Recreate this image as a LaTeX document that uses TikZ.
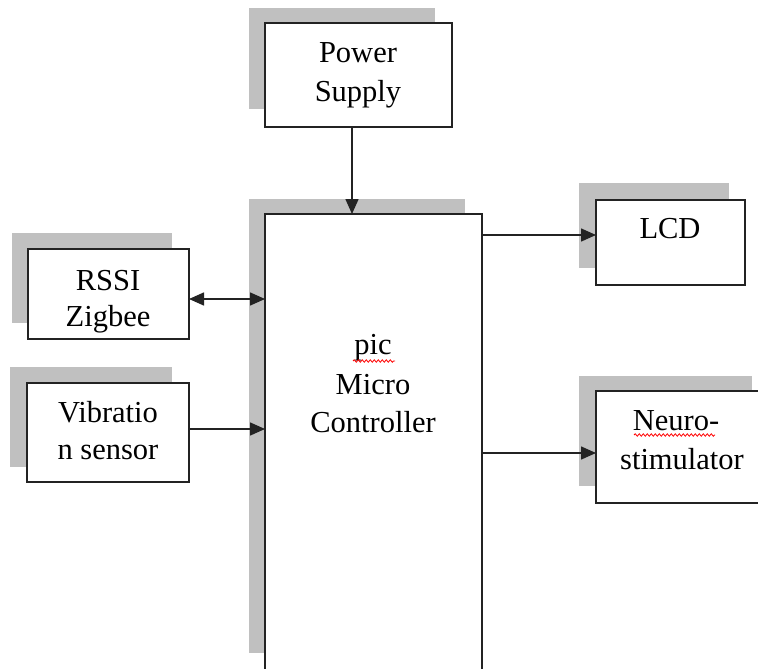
\documentclass[tikz,border=0pt]{standalone}
\usepackage{fontspec}
\setmainfont{Liberation Serif}
\usetikzlibrary{arrows.meta,decorations.pathmorphing}
\definecolor{shadowgray}{RGB}{192,192,192}
\definecolor{boxline}{RGB}{35,35,35}
\tikzset{
  shadowbox/.style={fill=shadowgray, draw=none},
  blockbox/.style={draw=boxline, line width=1.5pt, fill=white, inner sep=0pt, outer sep=0pt, anchor=north west},
  lbl/.style={inner sep=0pt, anchor=base, text=black, font=\fontsize{30.5}{36}\selectfont},
  conn/.style={line width=1.5pt, draw=boxline, -{Triangle[length=15pt,width=13pt]}},
  biconn/.style={line width=1.5pt, draw=boxline, {Triangle[length=15pt,width=13pt]}-{Triangle[length=15pt,width=13pt]}},
  spell/.style={draw=red, line width=0.8pt, decorate, decoration={snake, amplitude=1.2pt, segment length=4pt}}
}
\begin{document}
\begin{tikzpicture}[x=1pt,y=-1pt]
\useasboundingbox (0,0) rectangle (758,669);
% shadows
\fill[shadowbox] (249,8) rectangle (435,109);
\fill[shadowbox] (249,199) rectangle (465,653);
\fill[shadowbox] (12,233) rectangle (172,323);
\fill[shadowbox] (10,367) rectangle (172,467);
\fill[shadowbox] (579,183) rectangle (729,268);
\fill[shadowbox] (579,376) rectangle (752,486);
% boxes
\node[blockbox, minimum width=187pt, minimum height=104pt] (ps) at (265,23) {};
\node[blockbox, minimum width=217pt, minimum height=456pt] (mc) at (265,214) {};
\node[blockbox, minimum width=161pt, minimum height=90pt] (rs) at (28,249) {};
\node[blockbox, minimum width=162pt, minimum height=99pt] (vb) at (27,383) {};
\node[blockbox, minimum width=149pt, minimum height=85pt] (lcd) at (596,200) {};
\node[blockbox, minimum width=173pt, minimum height=112pt] (ns) at (596,391) {};
% labels
\node[lbl] (ps1) at (358,63) {Power};
\node[lbl] (ps2) at (358,102) {Supply};
\node[lbl] (mc1) at (373,354) {pic};
\node[lbl] (mc2) at (373,394) {Micro};
\node[lbl] (mc3) at (373,432) {Controller};
\node[lbl] (rs1) at (108,290) {RSSI};
\node[lbl] (rs2) at (108,326) {Zigbee};
\node[lbl] (vb1) at (108,422) {Vibratio};
\node[lbl] (vb2) at (108,459) {n sensor};
\node[lbl] (lcd1) at (670,238) {LCD};
\node[lbl] (ns1) at (676,430) {Neuro-};
\node[lbl] (ns2) at (682,469) {stimulator};
% spell-check underlines
\draw[spell] (353,361) -- (395,361);
\draw[spell] (634,435) -- (715,435);
% connectors
\draw[conn] ([xshift=-6.5pt]ps.south) -- ([xshift=-6.5pt]ps.south |- mc.north);
\draw[biconn] ([yshift=-5pt]rs.east) -- ([yshift=-5pt]rs.east -| mc.west);
\draw[conn] ([yshift=3.5pt]vb.east) -- ([yshift=3.5pt]vb.east -| mc.west);
\draw[conn] ([yshift=7.5pt]lcd.west -| mc.east) -- ([yshift=7.5pt]lcd.west);
\draw[conn] ([yshift=-6pt]ns.west -| mc.east) -- ([yshift=-6pt]ns.west);
\end{tikzpicture}
\end{document}
